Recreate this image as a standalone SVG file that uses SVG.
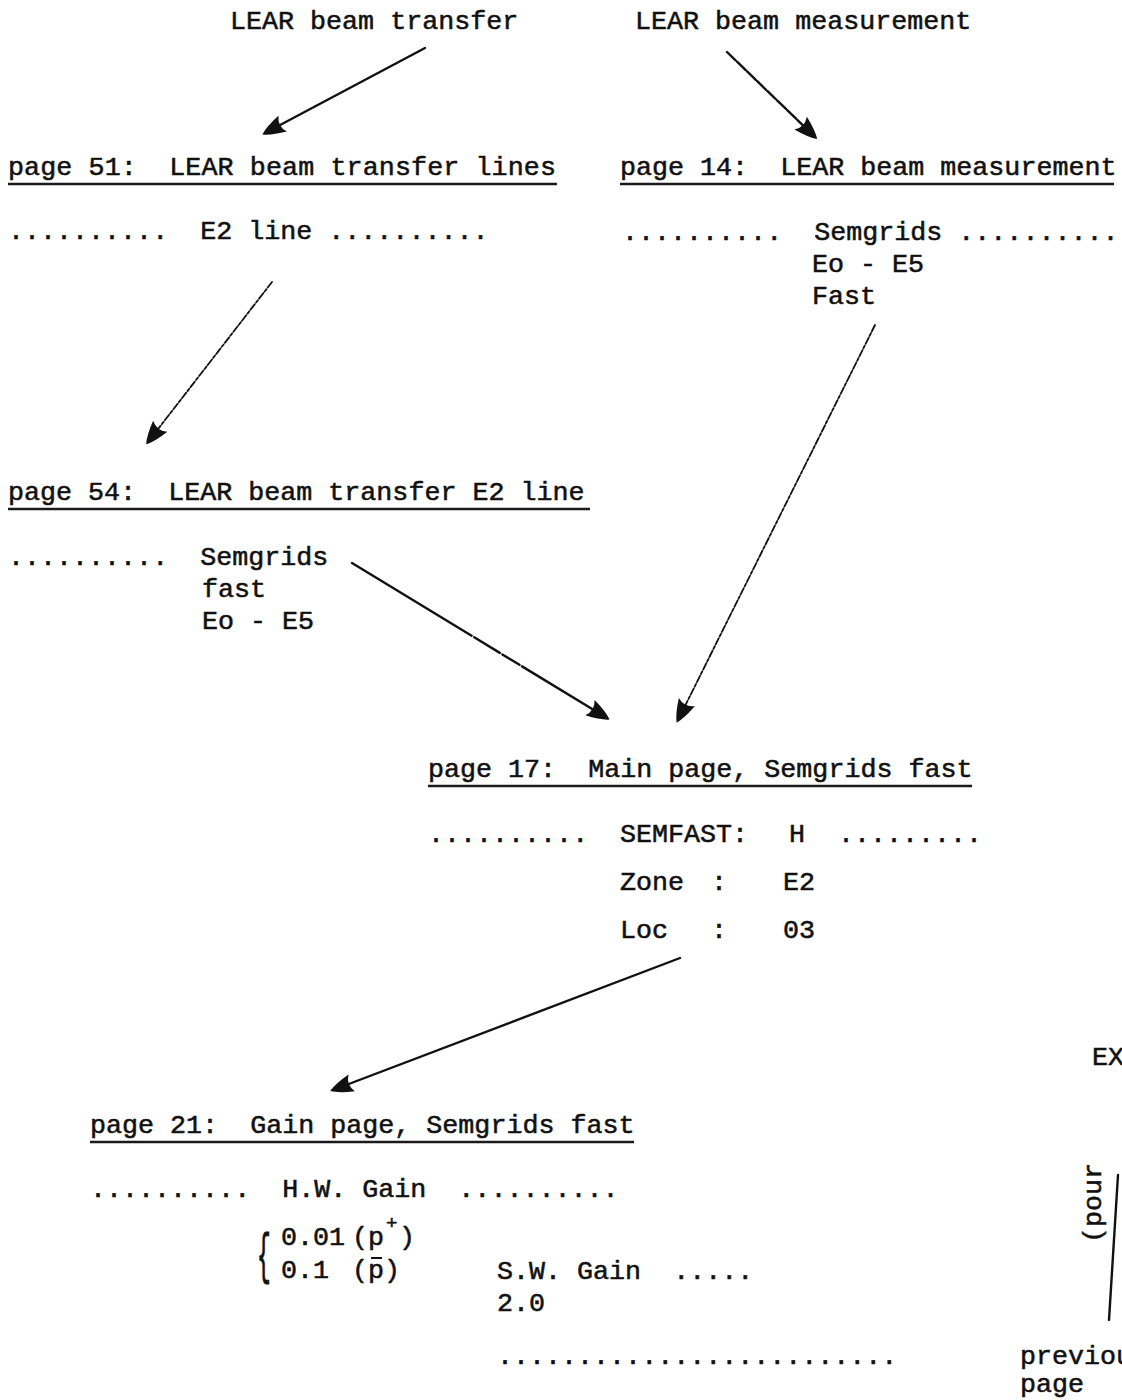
<svg xmlns="http://www.w3.org/2000/svg" width="1122" height="1400" viewBox="0 0 1122 1400">
  <style>
    text { font-family: "Liberation Mono", "DejaVu Sans Mono", monospace; font-size: 26.7px; fill: #111; stroke: #111; stroke-width: 0.55; }
    .ul { stroke: #1a1a1a; stroke-width: 2.6; fill: none; }
    .arrow { stroke: #111; stroke-width: 2.4; fill: none; stroke-linecap: round; }
    .scratch { stroke-width: 1.8; stroke-dasharray: 7 2 3 2; }
  </style>
  <defs>
    <marker id="head" viewBox="-24 -12 28 24" markerWidth="28" markerHeight="24" refX="0" refY="0" orient="auto" markerUnits="userSpaceOnUse">
      <path d="M3,0 Q-4,-5 -20,-9 Q-14,0 -20,9 Q-4,5 3,0 Z" fill="#111"/>
    </marker>
  </defs>

  <rect width="1122" height="1400" fill="#fff"/>

  <!-- entry points -->
  <g id="lear-transfer">
    <text x="230" y="29">LEAR beam transfer</text>
  </g>
  <g id="lear-measurement">
    <text x="635" y="29">LEAR beam measurement</text>
  </g>

  <!-- page 51 -->
  <g id="page51">
    <text x="8" y="175" textLength="548" lengthAdjust="spacing" xml:space="preserve">page 51:  LEAR beam transfer lines</text>
    <line class="ul" x1="8" y1="184" x2="557" y2="184"/>
    <text x="8" y="239" xml:space="preserve">..........  E2 line ..........</text>
  </g>

  <!-- page 14 -->
  <g id="page14">
    <text x="620" y="175" xml:space="preserve">page 14:  LEAR beam measurement</text>
    <line class="ul" x1="620" y1="184" x2="1114" y2="184"/>
    <text x="622" y="240" xml:space="preserve">..........  Semgrids ..........</text>
    <text x="812" y="272">Eo - E5</text>
    <text x="812" y="304">Fast</text>
  </g>

  <!-- page 54 -->
  <g id="page54">
    <text x="8" y="500" xml:space="preserve">page 54:  LEAR beam transfer E2 line</text>
    <line class="ul" x1="8" y1="509" x2="590" y2="509"/>
    <text x="8" y="565" xml:space="preserve">..........  Semgrids</text>
    <text x="202" y="597">fast</text>
    <text x="202" y="629">Eo - E5</text>
  </g>

  <!-- page 17 -->
  <g id="page17">
    <text x="428" y="777" xml:space="preserve">page 17:  Main page, Semgrids fast</text>
    <line class="ul" x1="428" y1="786" x2="972" y2="786"/>
    <text x="428" y="842">..........</text>
    <text x="620" y="842">SEMFAST:</text>
    <text x="789" y="842">H</text>
    <text x="838" y="842">.........</text>
    <text x="620" y="890">Zone</text>
    <text x="711" y="890">:</text>
    <text x="783" y="890">E2</text>
    <text x="620" y="938">Loc</text>
    <text x="711" y="938">:</text>
    <text x="783" y="938">03</text>
  </g>

  <!-- page 21 -->
  <g id="page21">
    <text x="90" y="1133" xml:space="preserve">page 21:  Gain page, Semgrids fast</text>
    <line class="ul" x1="90" y1="1142" x2="634" y2="1142"/>
    <text x="90" y="1197" xml:space="preserve">..........  H.W. Gain  ..........</text>
    <!-- tall typed brace grouping the two gain values -->
    <text transform="translate(257,1272) scale(0.5,1.2)" style="font-size:46px; stroke-width:0.9px">{</text>
    <text x="281" y="1245">0.01</text>
    <text x="352" y="1245">(p</text>
    <text x="386" y="1229" style="font-size:19px">+</text>
    <text x="399" y="1245">)</text>
    <text x="281" y="1278">0.1</text>
    <text x="352" y="1278">(p)</text>
    <line x1="371" y1="1258" x2="382" y2="1258" stroke="#111" stroke-width="2"/>
    <text x="497" y="1279" xml:space="preserve">S.W. Gain  .....</text>
    <text x="497" y="1311">2.0</text>
    <text x="497" y="1364">.........................</text>
  </g>

  <!-- partially visible neighbours on the right -->
  <g id="ex-branch">
    <text x="1092" y="1065">EX</text>
    <text transform="translate(1101,1243) rotate(-90)">(pour</text>
  </g>
  <g id="previous-page">
    <text x="1020" y="1364">previous</text>
    <text x="1020" y="1392">page</text>
  </g>

  <!-- connectors -->
  <g id="connectors">
    <line class="arrow" x1="425" y1="48" x2="265" y2="133" marker-end="url(#head)"/>
    <line class="arrow" x1="727" y1="52" x2="815" y2="137" stroke-dasharray="12 2" marker-end="url(#head)"/>
    <line class="arrow scratch" x1="272" y1="282" x2="148" y2="442" marker-end="url(#head)"/>
    <line class="arrow scratch" x1="875" y1="325" x2="678" y2="720" marker-end="url(#head)"/>
    <line class="arrow" x1="352" y1="563" x2="607" y2="718" stroke-dasharray="140 3 30 3 20 3 200" marker-end="url(#head)"/>
    <line class="arrow" x1="680" y1="958" x2="333" y2="1090" marker-end="url(#head)"/>
    <line class="arrow" x1="1118" y1="1175" x2="1109" y2="1320"/>
  </g>
</svg>
